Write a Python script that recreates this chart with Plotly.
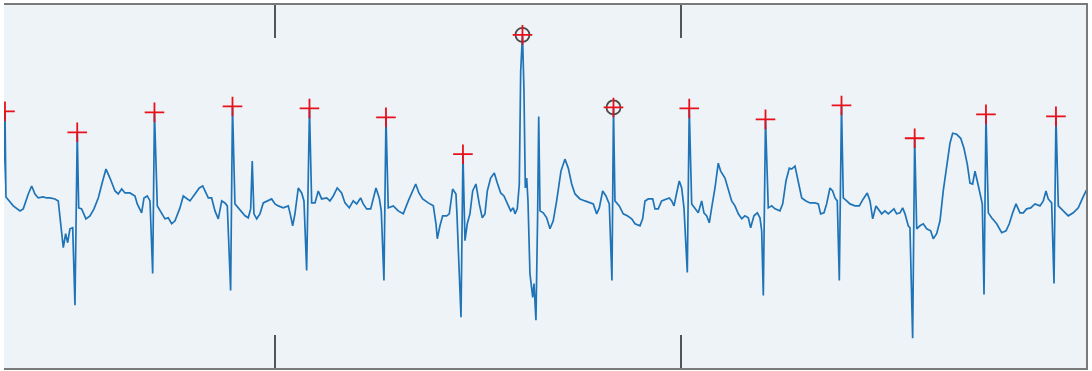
import plotly.graph_objects as go

# ECG lead trace: time (s) and amplitude (mV)
t_sec = [
    1.650, 1.675, 1.687, 1.777, 1.860, 1.900, 1.962, 2.004, 2.044, 2.085,
    2.147, 2.188, 2.229, 2.291, 2.331, 2.361, 2.393, 2.422, 2.447, 2.475,
    2.509, 2.537, 2.565, 2.583, 2.619, 2.672, 2.722, 2.771, 2.824, 2.878,
    2.919, 2.968, 3.030, 3.070, 3.112, 3.153, 3.214, 3.276, 3.304, 3.358,
    3.387, 3.427, 3.461, 3.494, 3.516, 3.551, 3.605, 3.645, 3.686, 3.728,
    3.769, 3.830, 3.871, 3.913, 3.953, 4.015, 4.068, 4.110, 4.138, 4.179,
    4.220, 4.261, 4.302, 4.344, 4.384, 4.413, 4.454, 4.477, 4.507, 4.548,
    4.590, 4.631, 4.671, 4.701, 4.720, 4.741, 4.775, 4.815, 4.856, 4.917,
    4.959, 5.000, 5.041, 5.102, 5.164, 5.193, 5.218, 5.246, 5.287, 5.329,
    5.357, 5.390, 5.425, 5.452, 5.493, 5.533, 5.575, 5.637, 5.677, 5.718,
    5.767, 5.821, 5.862, 5.915, 5.964, 6.006, 6.055, 6.087, 6.129, 6.179,
    6.211, 6.244, 6.284, 6.309, 6.342, 6.367, 6.395, 6.457, 6.518, 6.580,
    6.642, 6.696, 6.733, 6.773, 6.819, 6.888, 6.950, 6.983, 6.999, 7.032,
    7.065, 7.115, 7.147, 7.188, 7.229, 7.241, 7.291, 7.315, 7.340, 7.368,
    7.401, 7.435, 7.475, 7.516, 7.553, 7.586, 7.615, 7.656, 7.701, 7.738,
    7.780, 7.820, 7.861, 7.903, 7.935, 7.956, 7.984, 8.009, 8.026, 8.048,
    8.066, 8.083, 8.100, 8.116, 8.140, 8.161, 8.174, 8.190, 8.214, 8.235,
    8.248, 8.264, 8.304, 8.346, 8.387, 8.427, 8.469, 8.522, 8.571, 8.612,
    8.654, 8.695, 8.756, 8.818, 8.879, 8.920, 8.962, 8.994, 9.036, 9.076,
    9.117, 9.150, 9.169, 9.187, 9.240, 9.289, 9.339, 9.393, 9.434, 9.495,
    9.528, 9.557, 9.597, 9.652, 9.680, 9.720, 9.762, 9.815, 9.856, 9.886,
    9.914, 9.947, 9.979, 10.009, 10.037, 10.078, 10.102, 10.132, 10.172, 10.213,
    10.255, 10.283, 10.317, 10.349, 10.378, 10.419, 10.459, 10.489, 10.542, 10.583,
    10.624, 10.665, 10.706, 10.748, 10.788, 10.829, 10.858, 10.899, 10.940, 10.973,
    10.994, 11.014, 11.041, 11.075, 11.117, 11.158, 11.219, 11.253, 11.293, 11.334,
    11.363, 11.404, 11.445, 11.487, 11.539, 11.589, 11.650, 11.691, 11.720, 11.761,
    11.794, 11.835, 11.868, 11.897, 11.925, 11.950, 11.977, 11.999, 12.041, 12.081,
    12.143, 12.196, 12.245, 12.294, 12.328, 12.361, 12.402, 12.430, 12.472, 12.512,
    12.553, 12.595, 12.623, 12.656, 12.697, 12.730, 12.759, 12.799, 12.820, 12.853,
    12.878, 12.903, 12.943, 12.984, 13.026, 13.075, 13.107, 13.149, 13.190, 13.230,
    13.272, 13.313, 13.346, 13.395, 13.445, 13.485, 13.526, 13.559, 13.592, 13.621,
    13.649, 13.682, 13.711, 13.732, 13.756, 13.785, 13.826, 13.888, 13.950, 14.003,
    14.043, 14.085, 14.126, 14.175, 14.216, 14.257, 14.307, 14.360, 14.421, 14.462,
    14.495, 14.523, 14.565, 14.594, 14.618, 14.647, 14.708, 14.770, 14.831, 14.893,
    14.947, 14.988, 15.025,
]

ecg_mv = [
    0.05, 0.90, 0.04, -0.05, -0.10, -0.08, 0.07, 0.15, 0.07, 0.03,
    0.04, 0.03, 0.03, 0.02, 0.00, -0.23, -0.47, -0.33, -0.42, -0.28,
    -0.27, -1.05, 0.69, -0.07, -0.08, -0.18, -0.15, -0.08, 0.03, 0.20,
    0.32, 0.23, 0.10, 0.07, 0.12, 0.08, 0.08, 0.05, -0.03, -0.12,
    0.03, 0.05, 0.00, -0.73, 0.89, -0.05, -0.13, -0.18, -0.17, -0.23,
    -0.20, -0.07, 0.05, 0.02, 0.00, 0.07, 0.13, 0.15, 0.10, 0.03,
    0.03, -0.10, -0.18, 0.00, -0.02, -0.05, -0.90, 0.95, -0.03, -0.07,
    -0.12, -0.15, -0.17, -0.08, 0.40, -0.13, -0.18, -0.13, -0.02, 0.00,
    0.02, -0.03, -0.05, -0.07, -0.05, -0.15, -0.25, -0.13, 0.13, 0.08,
    0.00, -0.70, 0.93, -0.02, -0.02, 0.10, 0.02, 0.03, 0.00, 0.05,
    0.13, 0.08, -0.02, -0.07, 0.00, -0.03, 0.03, -0.03, -0.08, -0.08,
    0.03, 0.13, 0.03, -0.10, -0.80, 0.84, -0.07, -0.05, -0.10, -0.13,
    0.00, 0.10, 0.17, 0.08, 0.02, -0.02, -0.05, -0.23, -0.38, -0.25,
    -0.15, -0.15, -0.13, 0.12, 0.07, -0.13, -1.17, 0.47, -0.40, -0.23,
    -0.13, 0.10, 0.17, -0.03, -0.17, -0.13, 0.10, 0.23, 0.28, 0.18,
    0.08, 0.05, -0.02, -0.10, -0.07, -0.13, -0.08, 0.17, 1.30, 1.67,
    1.13, 0.13, 0.23, 0.00, -0.73, -0.87, -0.97, -0.83, -1.20, -0.13,
    0.85, -0.10, -0.12, -0.17, -0.28, -0.20, 0.00, 0.30, 0.42, 0.33,
    0.17, 0.07, 0.02, 0.00, -0.02, -0.03, -0.13, -0.07, 0.10, 0.05,
    -0.03, -0.80, 0.94, 0.00, -0.05, -0.13, -0.15, -0.18, -0.23, -0.25,
    -0.18, 0.00, 0.02, 0.02, -0.08, -0.08, 0.00, 0.02, 0.03, 0.00,
    -0.05, 0.08, 0.20, 0.13, -0.07, -0.72, 0.93, -0.03, -0.07, -0.12,
    0.00, -0.12, -0.15, -0.22, -0.07, 0.13, 0.38, 0.30, 0.23, 0.10,
    0.00, -0.05, -0.13, -0.18, -0.15, -0.17, -0.27, -0.15, -0.12, -0.17,
    -0.30, -0.95, 0.82, -0.07, -0.05, -0.08, -0.10, -0.03, 0.20, 0.33,
    0.32, 0.35, 0.20, 0.03, 0.00, -0.02, -0.02, -0.03, -0.13, -0.12,
    -0.03, 0.13, 0.10, 0.03, 0.00, -0.80, 0.96, 0.03, 0.00, -0.03,
    -0.05, -0.05, 0.02, 0.08, 0.00, -0.18, -0.05, -0.08, -0.13, -0.10,
    -0.13, -0.10, -0.08, -0.13, -0.12, -0.07, -0.13, -0.25, -0.27, -1.38,
    0.63, -0.28, -0.25, -0.23, -0.28, -0.30, -0.38, -0.33, -0.20, 0.10,
    0.37, 0.58, 0.68, 0.67, 0.63, 0.53, 0.37, 0.18, 0.17, 0.30,
    0.20, 0.07, -0.03, -0.94, 0.87, -0.12, -0.17, -0.23, -0.32, -0.30,
    -0.23, -0.12, -0.03, -0.12, -0.12, -0.08, -0.07, -0.03, -0.05, 0.00,
    0.10, 0.02, -0.02, -0.83, 0.85, -0.05, -0.10, -0.15, -0.12, -0.07,
    0.03, 0.10, 0.08,
]

# Detected R peaks (time in s, amplitude in mV)
r_peak_t = [1.675, 2.565, 3.516, 4.477, 5.425, 6.367, 7.315, 8.048,
            9.169, 10.102, 11.041, 11.977, 12.878, 13.756, 14.618]
r_peak_mv = [0.90, 0.69, 0.89, 0.95, 0.93, 0.84, 0.47, 1.67,
             0.94, 0.93, 0.82, 0.96, 0.63, 0.87, 0.85]

# Peaks flagged for review (circled)
flagged_t = [8.048, 9.169]
flagged_mv = [1.67, 0.94]

x_range = [1.663, 14.988]
y_range = [-1.68, 1.97]
tick_times = [5, 10]

fig = go.Figure()

fig.add_trace(go.Scatter(
    x=t_sec, y=ecg_mv, mode="lines",
    line=dict(color="#1f74b8", width=1.7),
    hoverinfo="skip", showlegend=False,
))

fig.add_trace(go.Scatter(
    x=flagged_t, y=flagged_mv, mode="markers",
    marker=dict(symbol="circle-open", size=14, color="#4a4a4a",
                line=dict(color="#4a4a4a", width=1.8)),
    hoverinfo="skip", showlegend=False,
))

fig.add_trace(go.Scatter(
    x=r_peak_t, y=r_peak_mv, mode="markers",
    marker=dict(symbol="cross-thin", size=14, color="#e8101a",
                line=dict(color="#e8101a", width=1.8)),
    showlegend=False,
))

fig.update_layout(
    width=1092, height=371, autosize=False,
    margin=dict(l=4, r=6, t=3, b=3),
    paper_bgcolor="white",
    plot_bgcolor="#eef3f7",
)

fig.update_xaxes(
    range=x_range, showgrid=False, zeroline=False,
    showline=True, linecolor="#7a7a7a", linewidth=1.5, mirror="ticks",
    ticks="inside", ticklen=33, tickwidth=1.5, tickcolor="#555555",
    tickvals=tick_times, showticklabels=False,
)

fig.update_yaxes(
    range=y_range, showgrid=False, zeroline=False,
    side="right", showline=True, linecolor="#7a7a7a", linewidth=1.5,
    ticks="", showticklabels=False,
)

fig.write_html("out.html")
